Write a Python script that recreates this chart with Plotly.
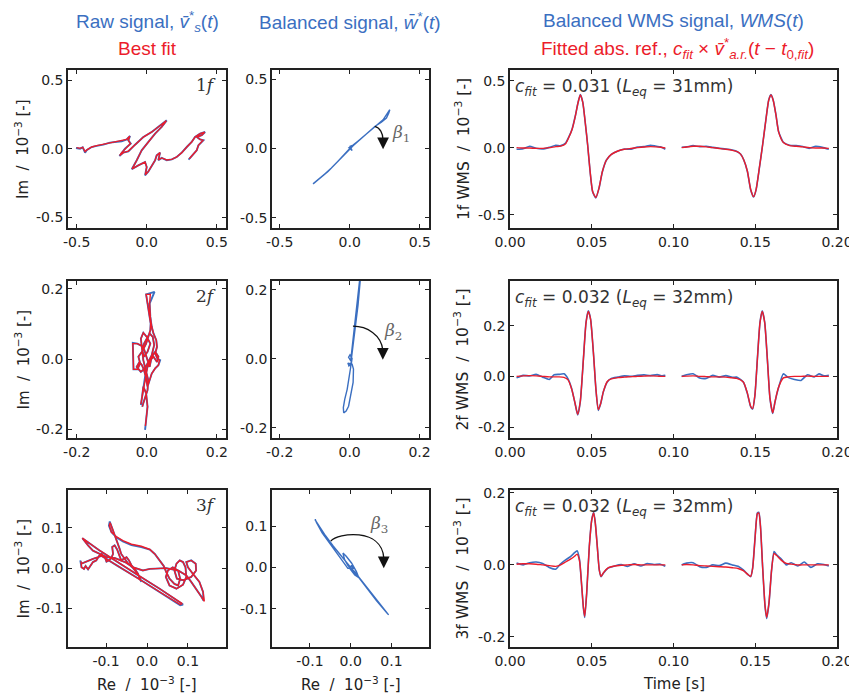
import plotly.graph_objects as go

# ---------------- data (values in units of 1e-3, time in s) ----------------
# Row 1 (1f) -- raw signal in complex plane
raw1_re = [-0.505,-0.476,-0.457,-0.440,-0.429,-0.410,-0.393,-0.357,-0.310,-0.262,-0.214,-0.179,-0.143,-0.119,-0.131,-0.114,-0.155,-0.179,-0.195,-0.167,-0.131,-0.083,-0.024,0.036,0.095,0.143,0.107,0.060,0.012,-0.036,-0.071,-0.107,-0.060,-0.012,0.000,-0.012,0.012,0.036,0.060,0.071,0.095,0.083,0.107,0.143,0.179,0.214,0.250,0.286,0.321,0.345,0.381,0.417,0.393,0.357,0.381,0.405,0.369,0.357,0.333,0.310,0.298]
raw1_im = [0.005,0.000,0.010,-0.029,-0.012,0.000,0.012,0.020,0.029,0.044,0.049,0.054,0.068,0.093,0.061,0.037,0.000,-0.029,-0.054,-0.029,-0.020,0.029,0.085,0.122,0.171,0.207,0.159,0.110,0.049,-0.012,-0.085,-0.151,-0.122,-0.098,-0.134,-0.195,-0.166,-0.122,-0.085,-0.049,-0.029,-0.085,-0.068,-0.085,-0.078,-0.061,-0.029,0.012,0.049,0.085,0.110,0.122,0.098,0.085,0.068,0.061,0.024,-0.012,-0.044,-0.068,-0.080]
fit1_re = [-0.500,-0.476,-0.457,-0.440,-0.429,-0.410,-0.393,-0.357,-0.310,-0.262,-0.214,-0.179,-0.143,-0.121,-0.131,-0.116,-0.155,-0.179,-0.193,-0.167,-0.131,-0.083,-0.024,0.036,0.095,0.140,0.107,0.060,0.012,-0.036,-0.071,-0.104,-0.060,-0.012,0.000,-0.010,0.012,0.036,0.060,0.071,0.095,0.083,0.107,0.143,0.179,0.214,0.250,0.286,0.321,0.345,0.381,0.414,0.393,0.357,0.381,0.402,0.369,0.357,0.333,0.312,0.304]
fit1_im = [0.008,0.002,0.010,-0.022,-0.010,0.000,0.012,0.022,0.031,0.044,0.049,0.056,0.068,0.090,0.061,0.037,0.000,-0.029,-0.050,-0.029,-0.018,0.029,0.085,0.122,0.171,0.204,0.159,0.110,0.049,-0.012,-0.085,-0.148,-0.122,-0.098,-0.134,-0.190,-0.166,-0.122,-0.085,-0.049,-0.029,-0.082,-0.068,-0.083,-0.078,-0.061,-0.029,0.012,0.049,0.085,0.110,0.120,0.098,0.085,0.068,0.061,0.024,-0.012,-0.044,-0.066,-0.074]
# Row 1 -- balanced signal
bal1_re = [-0.262,-0.202,-0.155,-0.107,-0.060,-0.024,-0.007,0.012,-0.005,0.017,0.002,0.024,0.060,0.119,0.179,0.238,0.286,0.279,0.262,0.226,0.179,0.131,0.071,0.024,0.000,-0.036,-0.083,-0.131,-0.190,-0.255]
bal1_im = [-0.256,-0.207,-0.166,-0.117,-0.068,-0.029,-0.012,0.012,0.005,-0.015,0.015,0.024,0.054,0.105,0.154,0.207,0.280,0.256,0.220,0.190,0.159,0.117,0.061,0.020,-0.005,-0.044,-0.093,-0.141,-0.195,-0.251]

# Row 2 (2f)
raw2_re = [-0.005,-0.002,0.002,-0.002,-0.010,-0.014,-0.017,-0.011,-0.005,0.002,0.010,0.019,0.029,0.033,0.024,0.014,0.008,0.002,-0.005,-0.010,-0.019,-0.027,-0.040,-0.040,-0.038,-0.027,-0.019,-0.024,-0.014,-0.002,0.005,0.010,0.011,0.008,0.005,0.002,-0.002,0.022,0.008,0.010,0.014,0.019,0.027,0.029,0.024,0.030,0.038,0.033,0.024,0.014,0.008,0.002,-0.002,-0.008,-0.014,-0.021,-0.029,-0.017,-0.005,0.005,0.014,0.021,0.017,0.008,0.000,-0.008,-0.013,-0.008,0.002,0.010,0.000,-0.010,-0.017,-0.014,-0.010,-0.002,0.004,0.002,-0.005,-0.010,-0.013]
raw2_im = [-0.201,-0.173,-0.135,-0.097,-0.078,-0.111,-0.130,-0.088,-0.050,-0.022,-0.003,0.007,-0.008,0.007,0.021,0.007,-0.022,-0.003,0.021,0.035,0.040,0.044,0.046,0.007,-0.029,-0.029,-0.012,0.007,0.021,0.044,0.068,0.082,0.101,0.120,0.148,0.167,0.184,0.191,0.158,0.120,0.092,0.073,0.054,0.035,0.016,0.002,-0.003,-0.017,-0.026,-0.041,-0.059,-0.078,-0.055,-0.031,-0.017,-0.008,-0.022,-0.036,-0.026,-0.008,0.011,0.040,0.063,0.073,0.058,0.044,0.025,0.007,0.021,0.044,0.063,0.075,0.058,0.035,-0.003,-0.036,-0.059,-0.088,-0.107,-0.125,-0.135]
fit2_re = [-0.004,-0.002,0.002,-0.002,-0.010,-0.014,-0.017,-0.011,-0.005,0.002,0.010,0.019,0.029,0.033,0.024,0.014,0.008,0.002,-0.005,-0.010,-0.019,-0.027,-0.040,-0.040,-0.038,-0.027,-0.019,-0.024,-0.014,-0.002,0.005,0.010,0.011,0.008,0.005,0.002,-0.002,0.010,0.008,0.010,0.014,0.019,0.027,0.029,0.024,0.030,0.036,0.033,0.024,0.014,0.008,0.002,-0.002,-0.008,-0.014,-0.021,-0.029,-0.017,-0.005,0.005,0.014,0.021,0.017,0.008,0.000,-0.008,-0.013,-0.008,0.002,0.010,0.000,-0.010,-0.017,-0.014,-0.010,-0.002,0.004,0.002,-0.005,-0.010,-0.013]
fit2_im = [-0.190,-0.170,-0.135,-0.097,-0.078,-0.111,-0.128,-0.088,-0.050,-0.022,-0.003,0.007,-0.008,0.007,0.021,0.007,-0.022,-0.003,0.021,0.035,0.040,0.044,0.044,0.007,-0.029,-0.029,-0.012,0.007,0.021,0.044,0.068,0.082,0.101,0.120,0.148,0.167,0.184,0.184,0.158,0.120,0.092,0.073,0.054,0.035,0.016,0.002,-0.003,-0.017,-0.026,-0.041,-0.059,-0.078,-0.055,-0.031,-0.017,-0.008,-0.022,-0.036,-0.026,-0.008,0.011,0.040,0.063,0.073,0.058,0.044,0.025,0.007,0.021,0.044,0.063,0.075,0.058,0.035,-0.003,-0.036,-0.059,-0.088,-0.107,-0.125,-0.135]
bal2_re = [0.029,0.022,0.016,0.011,0.007,0.003,-0.003,0.001,0.007,0.005,-0.002,-0.005,0.007,0.011,0.010,0.003,-0.003,-0.010,-0.017,-0.018,-0.014,-0.007,0.000,0.003,0.005,0.010,0.016,0.024,0.030,0.031]
bal2_im = [0.232,0.166,0.117,0.068,0.020,-0.005,0.005,0.012,0.002,-0.012,-0.020,-0.012,-0.015,-0.029,-0.068,-0.107,-0.137,-0.151,-0.156,-0.141,-0.117,-0.088,-0.049,-0.024,0.000,0.039,0.088,0.156,0.224,0.234]

# Row 3 (3f)
raw3_re = [-0.163,-0.160,-0.154,-0.150,-0.144,-0.138,-0.132,-0.124,-0.117,-0.111,-0.103,-0.099,-0.093,-0.087,-0.083,-0.085,-0.079,-0.073,-0.068,-0.063,-0.057,-0.050,-0.044,-0.038,-0.030,-0.022,-0.014,-0.018,-0.026,-0.034,-0.046,-0.054,-0.063,-0.067,-0.071,-0.076,-0.083,-0.091,-0.093,-0.087,-0.075,-0.059,-0.038,-0.014,0.007,0.019,0.031,0.041,0.047,0.055,0.067,0.076,0.081,0.076,0.063,0.051,0.046,0.055,0.072,0.088,0.096,0.094,0.088,0.080,0.072,0.067,0.073,0.089,0.108,0.120,0.119,0.108,0.096,0.100,0.112,0.128,0.137,0.138,0.133,0.120,0.108,0.096,0.076,0.047,0.019,0.007,-0.010,-0.034,-0.054,-0.079,-0.099,-0.115,-0.132,-0.144,-0.158,-0.115,-0.067,-0.018,0.031,0.088,0.081,0.027,-0.022,-0.071,-0.111,-0.132,-0.148,-0.160]
raw3_im = [0.019,0.002,-0.002,0.005,-0.003,0.005,0.015,0.019,0.030,0.035,0.027,0.016,0.019,0.025,0.035,0.052,0.056,0.046,0.031,0.019,0.023,0.027,0.019,0.007,-0.002,-0.014,-0.034,-0.022,-0.010,0.000,0.011,0.023,0.035,0.048,0.060,0.076,0.093,0.115,0.105,0.089,0.076,0.066,0.057,0.052,0.046,0.035,0.019,0.005,-0.010,-0.026,-0.039,-0.043,-0.026,-0.006,0.002,-0.006,-0.022,-0.043,-0.051,-0.041,-0.022,0.002,0.015,0.019,0.011,-0.006,-0.026,-0.030,-0.022,-0.006,0.011,0.019,0.015,0.002,-0.014,-0.034,-0.059,-0.080,-0.071,-0.051,-0.034,-0.018,-0.006,0.000,-0.002,-0.002,-0.006,0.002,0.015,0.025,0.027,0.035,0.043,0.056,0.074,0.043,0.011,-0.020,-0.051,-0.090,-0.092,-0.056,-0.025,0.005,0.030,0.023,0.015,0.011]
fit3_re = [-0.161,-0.160,-0.154,-0.150,-0.144,-0.138,-0.132,-0.124,-0.117,-0.111,-0.103,-0.099,-0.093,-0.087,-0.083,-0.085,-0.079,-0.073,-0.068,-0.063,-0.057,-0.050,-0.044,-0.038,-0.030,-0.022,-0.016,-0.018,-0.026,-0.034,-0.046,-0.054,-0.063,-0.067,-0.071,-0.076,-0.083,-0.090,-0.092,-0.087,-0.075,-0.059,-0.038,-0.014,0.007,0.019,0.031,0.041,0.047,0.055,0.067,0.076,0.081,0.076,0.063,0.051,0.046,0.055,0.072,0.088,0.096,0.094,0.088,0.080,0.072,0.067,0.073,0.089,0.108,0.120,0.119,0.108,0.096,0.100,0.112,0.128,0.137,0.140,0.133,0.120,0.108,0.096,0.076,0.047,0.019,0.007,-0.010,-0.034,-0.054,-0.079,-0.099,-0.115,-0.132,-0.144,-0.158,-0.115,-0.067,-0.018,0.031,0.086,0.081,0.027,-0.022,-0.071,-0.111,-0.132,-0.148,-0.160]
fit3_im = [0.017,0.002,-0.002,0.005,-0.003,0.005,0.015,0.019,0.030,0.035,0.027,0.016,0.019,0.025,0.035,0.052,0.056,0.046,0.031,0.019,0.023,0.027,0.019,0.007,-0.002,-0.014,-0.031,-0.022,-0.010,0.000,0.011,0.023,0.035,0.048,0.060,0.076,0.093,0.112,0.105,0.089,0.078,0.068,0.059,0.054,0.046,0.035,0.019,0.005,-0.010,-0.026,-0.039,-0.043,-0.026,-0.006,0.002,-0.006,-0.022,-0.043,-0.051,-0.041,-0.022,0.002,0.015,0.019,0.011,-0.006,-0.026,-0.030,-0.022,-0.006,0.011,0.019,0.015,0.002,-0.014,-0.034,-0.059,-0.082,-0.071,-0.051,-0.034,-0.018,-0.006,0.000,-0.002,-0.002,-0.006,0.002,0.015,0.025,0.027,0.035,0.043,0.056,0.074,0.043,0.011,-0.020,-0.051,-0.088,-0.090,-0.056,-0.025,0.005,0.030,0.023,0.015,0.011]
bal3_re = [-0.088,-0.080,-0.064,-0.043,-0.023,-0.007,0.000,0.010,0.022,0.042,0.067,0.093,0.090,0.063,0.038,0.018,0.006,-0.007,-0.015,-0.019,-0.011,0.002,0.014,0.020,0.010,-0.002,0.002,0.006,-0.007,-0.031,-0.051,-0.070,-0.084,-0.087]
bal3_im = [0.117,0.105,0.080,0.052,0.027,0.008,0.000,-0.011,-0.026,-0.051,-0.082,-0.115,-0.112,-0.080,-0.047,-0.022,-0.010,0.005,0.019,0.035,0.027,0.011,-0.010,-0.025,-0.018,-0.003,0.005,-0.002,-0.002,0.031,0.057,0.084,0.109,0.117]

# WMS time traces (two windows each)
wms1_t_a = [0.004,0.008,0.012,0.016,0.020,0.024,0.028,0.031,0.034,0.036,0.038,0.040,0.0415,0.043,0.0445,0.046,0.0475,0.049,0.0505,0.0525,0.0545,0.0565,0.059,0.062,0.066,0.070,0.074,0.078,0.082,0.086,0.089,0.092,0.095]
wms1_sig_a = [-0.012,-0.008,0.010,-0.005,-0.010,0.002,0.018,0.015,0.035,0.080,0.140,0.240,0.330,0.396,0.340,0.190,0.020,-0.180,-0.327,-0.376,-0.300,-0.180,-0.092,-0.050,-0.025,-0.010,-0.012,0.005,0.008,0.018,0.012,0.006,-0.012]
wms1_fit_a = [0.000,-0.003,-0.003,-0.005,-0.005,0.000,0.008,0.012,0.030,0.078,0.138,0.238,0.330,0.393,0.338,0.190,0.020,-0.178,-0.325,-0.372,-0.298,-0.178,-0.092,-0.050,-0.025,-0.012,-0.006,0.000,0.005,0.008,0.006,0.003,-0.003]
wms1_t_b = [0.105,0.108,0.112,0.116,0.120,0.124,0.128,0.132,0.136,0.139,0.141,0.143,0.1452,0.1472,0.149,0.1505,0.1525,0.1545,0.1566,0.1582,0.1596,0.161,0.1627,0.1643,0.1672,0.171,0.175,0.179,0.183,0.187,0.191,0.195]
wms1_sig_b = [0.003,0.006,0.015,0.008,0.010,0.002,-0.005,-0.010,-0.018,-0.030,-0.048,-0.092,-0.178,-0.314,-0.369,-0.315,-0.153,0.020,0.218,0.354,0.396,0.354,0.243,0.119,0.040,0.018,0.015,0.008,-0.005,0.010,0.002,-0.012]
wms1_fit_b = [0.000,0.005,0.010,0.010,0.006,0.000,-0.006,-0.012,-0.020,-0.030,-0.048,-0.092,-0.176,-0.312,-0.366,-0.313,-0.152,0.020,0.216,0.352,0.393,0.352,0.241,0.118,0.038,0.015,0.010,0.006,0.000,-0.002,-0.003,-0.005]

wms2_t_a = [0.004,0.008,0.012,0.016,0.020,0.024,0.027,0.030,0.033,0.0355,0.0377,0.0398,0.0414,0.043,0.0449,0.0465,0.0479,0.0493,0.051,0.0526,0.054,0.0555,0.0571,0.0595,0.062,0.066,0.070,0.074,0.078,0.082,0.086,0.090,0.093,0.095]
wms2_sig_a = [-0.006,0.004,0.002,0.008,-0.003,-0.012,0.006,0.008,0.010,-0.010,-0.048,-0.107,-0.152,-0.100,0.069,0.213,0.259,0.226,0.095,-0.055,-0.134,-0.107,-0.061,-0.022,-0.008,-0.003,0.002,0.000,0.004,0.006,0.003,0.007,0.002,0.004]
wms2_fit_a = [0.000,0.002,0.003,0.002,0.000,-0.002,-0.002,-0.002,-0.004,-0.014,-0.050,-0.106,-0.150,-0.098,0.068,0.211,0.256,0.224,0.094,-0.054,-0.131,-0.106,-0.060,-0.020,-0.010,-0.005,-0.003,-0.001,0.000,0.001,0.002,0.001,0.000,0.000]
wms2_t_b = [0.105,0.108,0.112,0.116,0.120,0.124,0.128,0.132,0.136,0.1386,0.1427,0.1452,0.1472,0.1484,0.1498,0.1513,0.1529,0.1543,0.1558,0.1574,0.159,0.1607,0.1621,0.1641,0.1672,0.170,0.174,0.178,0.182,0.186,0.189,0.192,0.195]
wms2_sig_b = [0.000,0.006,0.010,-0.006,-0.008,0.004,-0.003,0.003,-0.004,-0.003,-0.022,-0.068,-0.120,-0.129,-0.075,0.069,0.213,0.259,0.213,0.069,-0.087,-0.146,-0.100,-0.048,0.010,-0.004,-0.012,-0.016,0.006,-0.002,0.010,0.002,0.004]
wms2_fit_b = [0.000,0.001,0.002,0.000,-0.001,-0.002,-0.002,-0.003,-0.006,-0.008,-0.022,-0.066,-0.118,-0.127,-0.074,0.068,0.211,0.256,0.211,0.068,-0.086,-0.144,-0.100,-0.046,-0.006,-0.002,0.000,0.000,0.001,0.000,0.000,0.000,0.000]

wms3_t_a = [0.004,0.008,0.012,0.016,0.020,0.024,0.028,0.031,0.034,0.037,0.0395,0.041,0.0425,0.0438,0.0449,0.0457,0.0469,0.0485,0.050,0.0512,0.0522,0.0534,0.0546,0.0557,0.0571,0.060,0.064,0.068,0.072,0.076,0.080,0.084,0.088,0.092,0.095]
wms3_sig_a = [0.005,0.000,0.006,0.008,0.004,-0.007,-0.012,0.003,0.014,0.023,0.034,0.039,0.015,-0.055,-0.120,-0.146,-0.079,0.051,0.126,0.146,0.116,0.051,-0.014,-0.033,-0.023,-0.009,-0.003,0.001,-0.004,0.003,-0.003,0.004,0.001,0.002,-0.004]
wms3_fit_a = [0.002,0.003,0.003,0.002,0.000,-0.002,-0.004,0.000,0.008,0.016,0.024,0.030,0.012,-0.055,-0.118,-0.143,-0.078,0.050,0.124,0.144,0.114,0.050,-0.014,-0.032,-0.022,-0.008,-0.003,-0.001,0.000,0.001,0.000,0.000,0.000,0.000,0.000]
wms3_t_b = [0.105,0.108,0.112,0.116,0.120,0.124,0.128,0.132,0.136,0.1395,0.1427,0.1458,0.1472,0.1484,0.1498,0.1513,0.1522,0.1532,0.1545,0.156,0.157,0.1584,0.160,0.1615,0.1631,0.1662,0.169,0.172,0.176,0.180,0.184,0.188,0.192,0.195]
wms3_sig_b = [0.000,0.005,0.006,-0.005,-0.007,0.000,-0.002,0.005,0.000,-0.004,-0.014,-0.028,-0.033,-0.009,0.070,0.144,0.146,0.108,-0.005,-0.116,-0.149,-0.107,-0.014,0.037,0.028,0.015,0.000,0.006,-0.003,0.008,-0.007,0.003,0.001,-0.003]
wms3_fit_b = [0.000,0.001,0.000,-0.002,-0.003,-0.004,-0.005,-0.006,-0.008,-0.010,-0.016,-0.028,-0.032,-0.010,0.069,0.142,0.144,0.106,-0.005,-0.114,-0.146,-0.105,-0.014,0.032,0.026,0.012,0.004,0.002,0.000,0.000,0.000,0.000,0.000,0.000]

# Fit results
c_fit = ["0.031", "0.032", "0.032"]
L_eq = ["31", "32", "32"]
harmonics = ["1", "2", "3"]

# Tick values / labels
lis_ticks = [[-0.5, 0.0, 0.5], [-0.2, 0.0, 0.2], [-0.1, 0.0, 0.1]]
lis_ticklabels = [["-0.5", "0.0", "0.5"], ["-0.2", "0.0", "0.2"], ["-0.1", "0.0", "0.1"]]
time_ticks = [0.0, 0.05, 0.10, 0.15, 0.20]
time_ticklabels = ["0.00", "0.05", "0.10", "0.15", "0.20"]
wms_ticks = [[-0.5, 0.0, 0.5], [-0.2, 0.0, 0.2], [-0.2, 0.0, 0.2]]
wms_ticklabels = [["-0.5", "0.0", "0.5"], ["-0.2", "0.0", "0.2"], ["-0.2", "0.0", "0.2"]]

# beta-angle arcs: (start, control1, control2, end-of-arc, arrow tip, label pos)
beta_arcs = [
    dict(p0=(0.179, 0.159), c1=(0.215, 0.150), c2=(0.238, 0.110), p1=(0.238, 0.060), tip=(0.238, -0.005), lab=(0.369, 0.105)),
    dict(p0=(0.0095, 0.095), c1=(0.050, 0.095), c2=(0.090, 0.070), p1=(0.095, 0.026), tip=(0.095, -0.002), lab=(0.124, 0.081)),
    dict(p0=(-0.049, 0.064), c1=(-0.031, 0.084), c2=(0.075, 0.097), p1=(0.081, 0.024), tip=(0.081, -0.002), lab=(0.069, 0.105)),
]

# ---------------- styling ----------------
# the page body adds an 8px margin, so the figure is drawn 8px in from the top-left
OX, OY = 8, 8
W, H = 857 - OX, 698 - OY
BLUE = "#3b6fc1"
RED = "#ec1c2b"
AX = "#222222"
FONT = "DejaVu Sans"
TFONT = "Liberation Sans"

col_px = [(68, 226), (272, 429), (510, 837)]
row_px = [(70, 228), (281, 438), (490, 647)]


def fx(px):
    return (px - OX) / W


def fy(py):
    return 1 - (py - OY) / H


lis_x_ranges = [[-0.562, 0.566], [-0.225, 0.226], [-0.193, 0.193]]
lis_y_ranges = [[-0.58, 0.575], [-0.224, 0.222], [-0.195, 0.193]]
mid_x_ranges = [[-0.555, 0.566], [-0.222, 0.227], [-0.193, 0.192]]
mid_y_ranges = [[-0.575, 0.567], [-0.229, 0.226], [-0.193, 0.188]]
wms_y_ranges = [[-0.60, 0.58], [-0.243, 0.376], [-0.228, 0.208]]

fig = go.Figure()
layout = dict(width=W, height=H, margin=dict(l=0, r=0, t=0, b=0, autoexpand=False),
              template="none",
              paper_bgcolor="white", plot_bgcolor="white", showlegend=False)


def ax_common(domain, anchor, rng, tv, tt):
    return dict(domain=domain, anchor=anchor, range=rng, tickvals=tv, ticktext=tt,
                ticks="inside", ticklen=4, tickwidth=1, tickcolor=AX,
                showline=True, linecolor=AX, linewidth=1.6, mirror="ticks",
                showgrid=False, zeroline=False, fixedrange=True, automargin=False,
                tickfont=dict(family=FONT, size=14, color=AX))


raw_re = [raw1_re, raw2_re, raw3_re]
raw_im = [raw1_im, raw2_im, raw3_im]
fit_re = [fit1_re, fit2_re, fit3_re]
fit_im = [fit1_im, fit2_im, fit3_im]
bal_re = [bal1_re, bal2_re, bal3_re]
bal_im = [bal1_im, bal2_im, bal3_im]
wms_t = [(wms1_t_a, wms1_t_b), (wms2_t_a, wms2_t_b), (wms3_t_a, wms3_t_b)]
wms_sig = [(wms1_sig_a, wms1_sig_b), (wms2_sig_a, wms2_sig_b), (wms3_sig_a, wms3_sig_b)]
wms_fit = [(wms1_fit_a, wms1_fit_b), (wms2_fit_a, wms2_fit_b), (wms3_fit_a, wms3_fit_b)]

annotations = []
shapes = []

for r in range(3):
    ydom = [fy(row_px[r][1]), fy(row_px[r][0])]
    for c in range(3):
        k = r * 3 + c + 1
        xn = "x" if k == 1 else f"x{k}"
        yn = "y" if k == 1 else f"y{k}"
        xk = "xaxis" if k == 1 else f"xaxis{k}"
        yk = "yaxis" if k == 1 else f"yaxis{k}"
        xdom = [fx(col_px[c][0]), fx(col_px[c][1])]
        if c == 0:
            layout[xk] = ax_common(xdom, yn, lis_x_ranges[r], lis_ticks[r], lis_ticklabels[r])
            layout[yk] = ax_common(ydom, xn, lis_y_ranges[r], lis_ticks[r], lis_ticklabels[r])
            fig.add_trace(go.Scatter(x=raw_re[r], y=raw_im[r], mode="lines", xaxis=xn, yaxis=yn,
                                     line=dict(color=BLUE, width=1.9)))
            fig.add_trace(go.Scatter(x=fit_re[r], y=fit_im[r], mode="lines", xaxis=xn, yaxis=yn,
                                     line=dict(color=RED, width=1.4)))
            annotations.append(dict(xref="paper", yref="paper", x=fx(col_px[c][1] - 8),
                                    y=fy(row_px[r][0] + 15), xanchor="right", yanchor="middle",
                                    showarrow=False, text=f"{harmonics[r]}<i>f</i>",
                                    font=dict(family="DejaVu Serif", size=17, color="#333")))
        elif c == 1:
            layout[xk] = ax_common(xdom, yn, mid_x_ranges[r], lis_ticks[r], lis_ticklabels[r])
            layout[yk] = ax_common(ydom, xn, mid_y_ranges[r], lis_ticks[r], lis_ticklabels[r])
            fig.add_trace(go.Scatter(x=bal_re[r], y=bal_im[r], mode="lines", xaxis=xn, yaxis=yn,
                                     line=dict(color=BLUE, width=1.4)))
            a = beta_arcs[r]
            path = (f"M {a['p0'][0]},{a['p0'][1]} C {a['c1'][0]},{a['c1'][1]} "
                    f"{a['c2'][0]},{a['c2'][1]} {a['p1'][0]},{a['p1'][1]}")
            shapes.append(dict(type="path", path=path, xref=xn, yref=yn,
                               line=dict(color="#111", width=1.3)))
            annotations.append(dict(xref=xn, yref=yn, axref=xn, ayref=yn,
                                    x=a["tip"][0], y=a["tip"][1], ax=a["p1"][0], ay=a["p1"][1],
                                    text="", showarrow=True, arrowhead=2, arrowsize=1.8,
                                    arrowwidth=1.3, arrowcolor="#111", standoff=0))
            annotations.append(dict(xref=xn, yref=yn, x=a["lab"][0], y=a["lab"][1],
                                    text=f"<i>β</i><sub>{harmonics[r]}</sub>", showarrow=False,
                                    font=dict(family="DejaVu Serif", size=17, color="#666")))
        else:
            layout[xk] = ax_common(xdom, yn, [0.0, 0.2], time_ticks, time_ticklabels)
            layout[yk] = ax_common(ydom, xn, wms_y_ranges[r], wms_ticks[r], wms_ticklabels[r])
            ta, tb = wms_t[r]
            sa, sb = wms_sig[r]
            fa, fb = wms_fit[r]
            fig.add_trace(go.Scatter(x=ta + [None] + tb, y=sa + [None] + sb, mode="lines",
                                     xaxis=xn, yaxis=yn, connectgaps=False,
                                     line=dict(color=BLUE, width=1.6, shape="spline", smoothing=0.5)))
            fig.add_trace(go.Scatter(x=ta + [None] + tb, y=fa + [None] + fb, mode="lines",
                                     xaxis=xn, yaxis=yn, connectgaps=False,
                                     line=dict(color=RED, width=1.4, shape="spline", smoothing=0.6)))
            annotations.append(dict(xref="paper", yref="paper", x=fx(col_px[c][0] + 3),
                                    y=fy(row_px[r][0] + 17), xanchor="left", yanchor="middle",
                                    showarrow=False,
                                    text=(f"<i>c</i><sub><i>fit</i></sub> = {c_fit[r]} "
                                          f"(<i>L</i><sub><i>eq</i></sub> = {L_eq[r]}mm)"),
                                    font=dict(family=FONT, size=17, color="#333")))

# axis titles
for r in range(3):
    yc = fy((row_px[r][0] + row_px[r][1]) / 2)
    annotations.append(dict(xref="paper", yref="paper", x=fx(22), y=yc, textangle=-90,
                            showarrow=False, xanchor="center", yanchor="middle",
                            text="Im  /  10<sup>−3</sup> [-]",
                            font=dict(family=FONT, size=15, color=AX)))
    annotations.append(dict(xref="paper", yref="paper", x=fx(462), y=yc, textangle=-90,
                            showarrow=False, xanchor="center", yanchor="middle",
                            text=f"{harmonics[r]}f WMS  /  10<sup>−3</sup> [-]",
                            font=dict(family=FONT, size=15.5, color=AX)))
for c, txt in enumerate(["Re  /  10<sup>−3</sup> [-]", "Re  /  10<sup>−3</sup> [-]", "Time [s]"]):
    xc = fx((col_px[c][0] + col_px[c][1]) / 2)
    annotations.append(dict(xref="paper", yref="paper", x=xc, y=fy(684), showarrow=False,
                            xanchor="center", yanchor="middle", text=txt,
                            font=dict(family=FONT, size=15, color=AX)))

# column titles
titles = [
    (147, 21, "Raw signal, <i>v\u0304</i><sup>*</sup><sub><i>s</i></sub>(<i>t</i>)", BLUE),
    (350, 21, "Balanced signal, <i>w\u0304</i><sup>*</sup>(<i>t</i>)", BLUE),
    (673, 20, "Balanced WMS signal, <i>WMS</i>(<i>t</i>)", BLUE),
    (147, 49, "Best fit", RED),
    (677, 49, "Fitted abs. ref., <i>c</i><sub><i>fit</i></sub> × <i>v\u0304</i><sup>*</sup><sub><i>a.r.</i></sub>"
              "(<i>t</i> − <i>t</i><sub>0,<i>fit</i></sub>)", RED),
]
for x, y, txt, col in titles:
    annotations.append(dict(xref="paper", yref="paper", x=fx(x), y=fy(y), showarrow=False,
                            xanchor="center", yanchor="middle", text=txt,
                            font=dict(family=TFONT, size=19, color=col)))

layout["annotations"] = annotations
layout["shapes"] = shapes
fig.update_layout(**layout)
fig.write_html("out.html")
